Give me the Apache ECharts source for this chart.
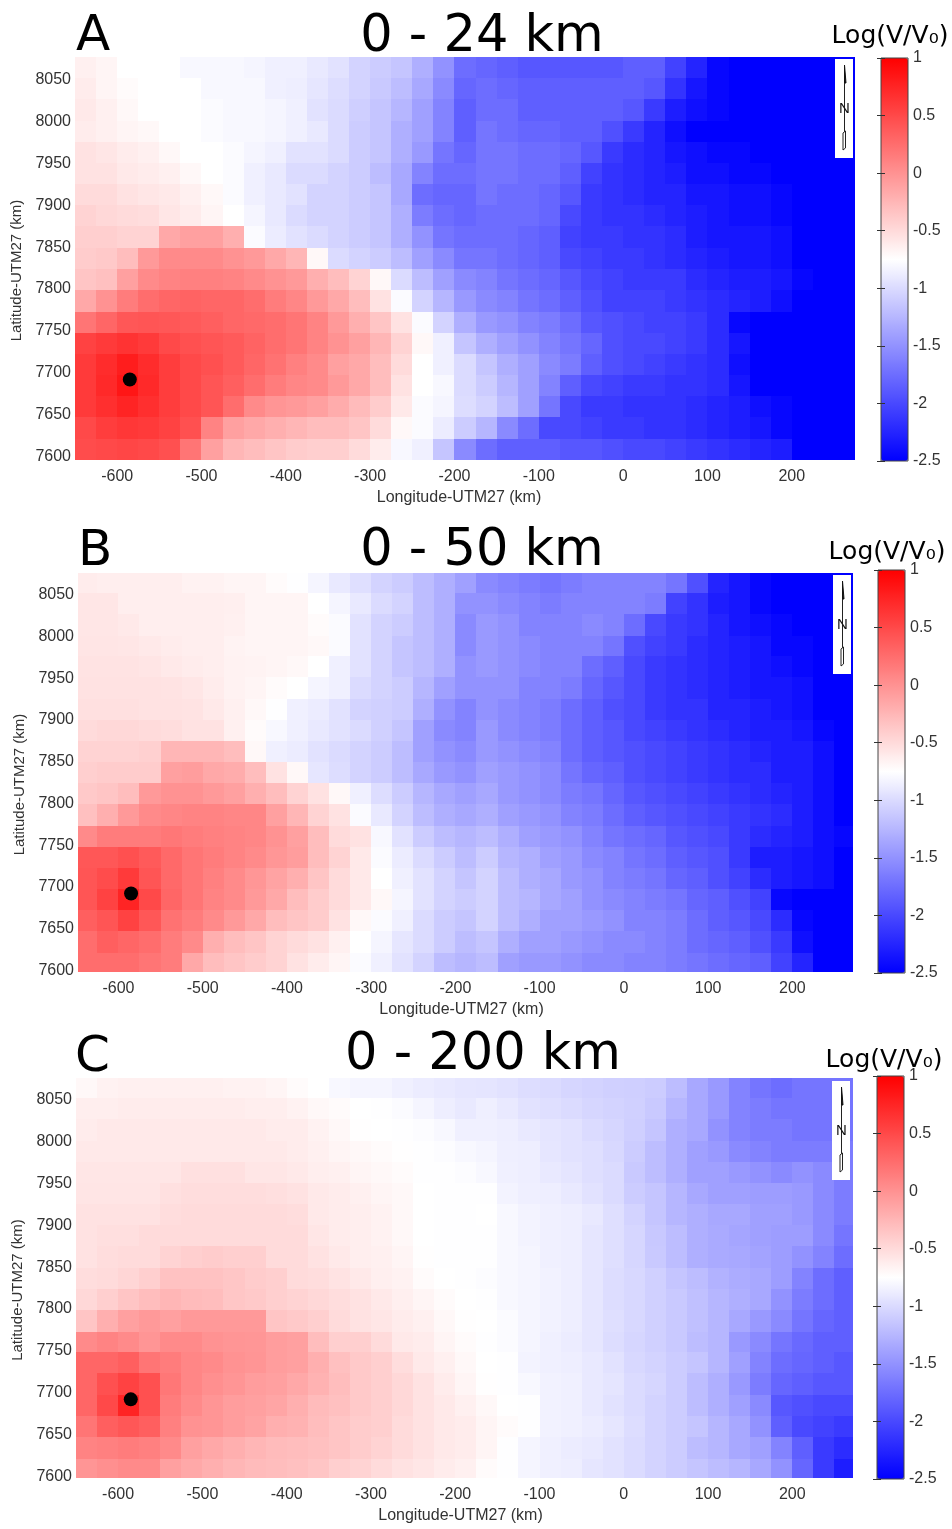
<!DOCTYPE html>
<html>
<head>
<meta charset="utf-8">
<style>html,body{margin:0;padding:0;background:#fff}#c{width:952px;height:1529px}</style>
<script src="https://cdn.jsdelivr.net/npm/echarts@6/dist/echarts.min.js"></script>
</head>
<body>
<div id="c"></div>
<script>
const lons = [-637.5,-612.5,-587.5,-562.5,-537.5,-512.5,-487.5,-462.5,-437.5,-412.5,-387.5,-362.5,-337.5,-312.5,-287.5,-262.5,-237.5,-212.5,-187.5,-162.5,-137.5,-112.5,-87.5,-62.5,-37.5,-12.5,12.5,37.5,62.5,87.5,112.5,137.5,162.5,187.5,212.5,237.5,262.5];
const lats = [8064,8039,8014,7988,7963,7938,7912,7887,7862,7836,7811,7786,7760,7735,7710,7684,7659,7634,7608];
const epicentre = [-585,7692];
const colorTicks = [-2.5,1];

const panelA = [
[-.65,-.68,-.75,-.75,-.75,-.8,-.8,-.8,-.82,-.85,-.85,-.9,-.95,-1.05,-1.1,-1.15,-1.3,-1.5,-1.75,-1.8,-1.85,-1.9,-1.9,-1.9,-1.9,-1.9,-1.85,-1.85,-2.05,-2.25,-2.45,-2.5,-2.5,-2.5,-2.5,-2.5,-2.5],
[-.62,-.68,-.72,-.75,-.75,-.75,-.8,-.8,-.8,-.85,-.87,-.92,-.98,-1.05,-1.12,-1.2,-1.35,-1.55,-1.8,-1.75,-1.8,-1.85,-1.85,-1.85,-1.85,-1.85,-1.85,-1.9,-2.15,-2.35,-2.45,-2.5,-2.5,-2.5,-2.5,-2.5,-2.5],
[-.6,-.65,-.7,-.75,-.75,-.75,-.78,-.8,-.8,-.82,-.85,-.95,-1,-1.08,-1.15,-1.25,-1.4,-1.6,-1.85,-1.75,-1.75,-1.85,-1.85,-1.85,-1.85,-1.85,-1.9,-2.1,-2.3,-2.4,-2.45,-2.5,-2.5,-2.5,-2.5,-2.5,-2.5],
[-.62,-.65,-.68,-.7,-.75,-.75,-.78,-.8,-.8,-.82,-.85,-.9,-1,-1.1,-1.15,-1.3,-1.4,-1.6,-1.85,-1.7,-1.75,-1.8,-1.8,-1.85,-1.85,-1.95,-2.1,-2.25,-2.4,-2.5,-2.5,-2.5,-2.5,-2.5,-2.5,-2.5,-2.5],
[-.55,-.58,-.62,-.65,-.7,-.75,-.75,-.78,-.82,-.85,-.95,-.95,-1,-1.1,-1.15,-1.3,-1.45,-1.7,-1.8,-1.7,-1.7,-1.75,-1.75,-1.8,-1.9,-2.1,-2.2,-2.25,-2.35,-2.4,-2.45,-2.45,-2.5,-2.5,-2.5,-2.5,-2.5],
[-.55,-.55,-.6,-.62,-.65,-.7,-.75,-.78,-.85,-.9,-1,-1,-1.05,-1.1,-1.2,-1.35,-1.6,-1.75,-1.75,-1.7,-1.7,-1.75,-1.75,-1.85,-2.05,-2.15,-2.2,-2.25,-2.3,-2.4,-2.4,-2.45,-2.45,-2.5,-2.5,-2.5,-2.5],
[-.5,-.5,-.55,-.58,-.6,-.65,-.7,-.78,-.85,-.9,-.95,-1.05,-1.05,-1.1,-1.15,-1.35,-1.75,-1.8,-1.8,-1.7,-1.75,-1.75,-1.8,-1.9,-2.1,-2.15,-2.2,-2.25,-2.25,-2.35,-2.35,-2.4,-2.4,-2.45,-2.5,-2.5,-2.5],
[-.45,-.48,-.5,-.52,-.58,-.62,-.68,-.75,-.82,-.9,-1,-1.05,-1.05,-1.1,-1.15,-1.3,-1.65,-1.75,-1.8,-1.75,-1.75,-1.75,-1.8,-2,-2.1,-2.15,-2.15,-2.2,-2.25,-2.3,-2.35,-2.4,-2.4,-2.45,-2.5,-2.5,-2.5],
[-.42,-.42,-.45,-.45,-.15,-.1,-.1,-.2,-.78,-.88,-.95,-1,-1.05,-1.1,-1.15,-1.3,-1.5,-1.7,-1.75,-1.75,-1.75,-1.8,-1.85,-2.05,-2.1,-2.1,-2.15,-2.15,-2.2,-2.3,-2.35,-2.35,-2.35,-2.4,-2.5,-2.5,-2.5],
[-.4,-.38,-.3,-.05,.05,.05,.05,0,-.05,-.15,-.25,-.7,-1,-1.05,-1.1,-1.2,-1.4,-1.55,-1.7,-1.7,-1.75,-1.8,-1.85,-2,-2.05,-2.1,-2.1,-2.15,-2.2,-2.25,-2.3,-2.35,-2.35,-2.4,-2.5,-2.5,-2.5],
[-.35,-.32,-.1,.05,.1,.12,.12,.1,.05,0,-.05,-.2,-.3,-.45,-.7,-1,-1.2,-1.4,-1.55,-1.6,-1.7,-1.75,-1.8,-1.9,-2,-2.05,-2.1,-2.1,-2.1,-2.2,-2.25,-2.3,-2.3,-2.35,-2.45,-2.5,-2.5],
[-.15,0,.15,.25,.3,.32,.3,.3,.25,.15,.08,-.05,-.15,-.3,-.55,-.78,-1.05,-1.25,-1.45,-1.55,-1.6,-1.7,-1.75,-1.85,-1.95,-2.05,-2.05,-2.05,-2.1,-2.15,-2.2,-2.25,-2.3,-2.4,-2.5,-2.5,-2.5],
[.2,.3,.4,.42,.4,.38,.35,.3,.28,.25,.2,.1,-.05,-.2,-.35,-.55,-.78,-1.05,-1.3,-1.45,-1.5,-1.6,-1.65,-1.75,-1.9,-1.95,-2,-2.05,-2.05,-2.1,-2.2,-2.45,-2.5,-2.5,-2.5,-2.5,-2.5],
[.55,.6,.65,.6,.5,.45,.42,.38,.32,.25,.2,.1,0,-.1,-.25,-.45,-.7,-.85,-1.15,-1.3,-1.4,-1.5,-1.6,-1.7,-1.8,-1.95,-2,-2,-2.05,-2.1,-2.2,-2.35,-2.5,-2.5,-2.5,-2.5,-2.5],
[.6,.7,.8,.7,.58,.5,.45,.38,.3,.22,.12,.05,-.1,-.15,-.3,-.5,-.75,-.85,-1,-1.15,-1.3,-1.4,-1.55,-1.65,-1.85,-1.95,-2,-2.05,-2.1,-2.15,-2.2,-2.4,-2.5,-2.5,-2.5,-2.5,-2.5],
[.6,.72,.85,.72,.58,.5,.42,.35,.25,.15,.08,.05,-.05,-.15,-.3,-.55,-.75,-.8,-1,-1.1,-1.25,-1.4,-1.6,-1.85,-2,-2.05,-2.1,-2.1,-2.15,-2.15,-2.2,-2.35,-2.5,-2.5,-2.5,-2.5,-2.5],
[.6,.68,.75,.68,.58,.5,.42,.25,.05,-.02,-.05,-.1,-.18,-.28,-.4,-.6,-.78,-.82,-.98,-1.05,-1.2,-1.4,-1.7,-2,-2.1,-2.1,-2.15,-2.15,-2.15,-2.2,-2.25,-2.3,-2.4,-2.45,-2.5,-2.5,-2.5],
[.5,.58,.62,.6,.55,.45,.1,-.1,-.15,-.2,-.25,-.3,-.3,-.35,-.5,-.7,-.78,-.88,-1.1,-1.25,-1.55,-1.75,-2,-2,-2.05,-2.1,-2.1,-2.15,-2.15,-2.2,-2.25,-2.3,-2.35,-2.45,-2.5,-2.5,-2.5],
[.48,.5,.52,.5,.45,.2,-.1,-.25,-.3,-.35,-.4,-.42,-.42,-.5,-.62,-.8,-.85,-1.15,-1.55,-1.75,-1.85,-1.85,-1.85,-1.9,-1.9,-1.95,-2,-2,-2.05,-2.1,-2.15,-2.2,-2.25,-2.3,-2.5,-2.5,-2.5]
];

const panelB = [
[-.62,-.63,-.63,-.63,-.63,-.66,-.66,-.68,-.68,-.72,-.76,-.82,-.9,-.97,-1.05,-1.1,-1.2,-1.3,-1.4,-1.55,-1.6,-1.65,-1.7,-1.65,-1.6,-1.6,-1.6,-1.6,-1.7,-1.95,-2.25,-2.35,-2.45,-2.5,-2.5,-2.5,-2.5],
[-.58,-.58,-.63,-.63,-.63,-.63,-.63,-.64,-.68,-.68,-.68,-.75,-.82,-.9,-1,-1.05,-1.2,-1.3,-1.5,-1.5,-1.55,-1.6,-1.65,-1.6,-1.6,-1.6,-1.6,-1.65,-2.05,-2.15,-2.3,-2.35,-2.45,-2.5,-2.5,-2.5,-2.5],
[-.58,-.58,-.6,-.63,-.63,-.63,-.63,-.65,-.68,-.68,-.68,-.72,-.78,-.95,-1.05,-1.1,-1.2,-1.3,-1.55,-1.45,-1.5,-1.6,-1.6,-1.6,-1.55,-1.6,-1.75,-2,-2.1,-2.15,-2.25,-2.35,-2.4,-2.45,-2.5,-2.5,-2.5],
[-.57,-.57,-.58,-.6,-.62,-.63,-.63,-.67,-.68,-.68,-.68,-.7,-.78,-.95,-1.05,-1.15,-1.2,-1.3,-1.55,-1.45,-1.5,-1.55,-1.6,-1.6,-1.6,-1.7,-1.95,-2.05,-2.1,-2.2,-2.25,-2.3,-2.35,-2.45,-2.45,-2.5,-2.5],
[-.56,-.56,-.56,-.57,-.6,-.62,-.63,-.66,-.67,-.68,-.7,-.75,-.85,-.95,-1.05,-1.15,-1.2,-1.3,-1.5,-1.45,-1.5,-1.55,-1.6,-1.6,-1.75,-1.85,-2,-2.1,-2.15,-2.2,-2.25,-2.3,-2.35,-2.4,-2.45,-2.5,-2.5],
[-.55,-.55,-.55,-.55,-.56,-.58,-.62,-.66,-.68,-.72,-.75,-.82,-.85,-1,-1.05,-1.1,-1.25,-1.4,-1.5,-1.5,-1.5,-1.6,-1.6,-1.65,-1.8,-1.9,-2,-2.1,-2.15,-2.2,-2.25,-2.3,-2.35,-2.35,-2.4,-2.5,-2.5],
[-.54,-.54,-.54,-.55,-.55,-.56,-.6,-.65,-.7,-.76,-.85,-.88,-.95,-1.05,-1.07,-1.1,-1.3,-1.5,-1.6,-1.5,-1.55,-1.6,-1.65,-1.75,-1.85,-1.95,-2,-2.1,-2.15,-2.15,-2.25,-2.25,-2.3,-2.35,-2.4,-2.5,-2.5],
[-.5,-.48,-.48,-.5,-.52,-.55,-.55,-.65,-.72,-.8,-.85,-.9,-.95,-1,-1.07,-1.15,-1.4,-1.55,-1.6,-1.45,-1.55,-1.6,-1.65,-1.75,-1.85,-1.9,-2,-2.05,-2.1,-2.15,-2.2,-2.25,-2.3,-2.3,-2.35,-2.45,-2.5],
[-.45,-.45,-.45,-.43,-.25,-.25,-.25,-.3,-.7,-.85,-.88,-.95,-1,-1.05,-1.1,-1.2,-1.4,-1.5,-1.55,-1.45,-1.5,-1.55,-1.6,-1.75,-1.85,-1.9,-1.95,-2,-2.05,-2.1,-2.15,-2.2,-2.25,-2.3,-2.3,-2.4,-2.5],
[-.42,-.4,-.4,-.4,-.1,-.08,-.15,-.18,-.3,-.55,-.7,-.92,-.98,-1.05,-1.1,-1.2,-1.35,-1.45,-1.5,-1.4,-1.45,-1.5,-1.55,-1.7,-1.8,-1.85,-1.95,-2,-2.05,-2.1,-2.15,-2.2,-2.2,-2.3,-2.3,-2.4,-2.5],
[-.38,-.35,-.3,-.05,0,0,-.05,-.1,-.2,-.3,-.45,-.55,-.7,-.85,-.98,-1.1,-1.25,-1.35,-1.4,-1.35,-1.45,-1.5,-1.55,-1.65,-1.7,-1.8,-1.9,-1.95,-2,-2.05,-2.1,-2.15,-2.2,-2.25,-2.3,-2.4,-2.5],
[-.32,-.2,-.05,.05,.08,.1,.1,.08,.08,-.1,-.25,-.45,-.55,-.78,-.9,-1.05,-1.2,-1.3,-1.35,-1.3,-1.4,-1.45,-1.5,-1.6,-1.65,-1.75,-1.85,-1.9,-1.95,-2,-2.05,-2.1,-2.15,-2.2,-2.3,-2.4,-2.5],
[.05,.15,.15,.15,.18,.15,.12,.1,.08,0,-.1,-.3,-.5,-.55,-.8,-.95,-1.1,-1.2,-1.25,-1.2,-1.3,-1.4,-1.45,-1.5,-1.6,-1.7,-1.75,-1.8,-1.9,-1.95,-2,-2.1,-2.2,-2.25,-2.3,-2.4,-2.45],
[.4,.4,.45,.38,.28,.2,.15,.1,.05,-.03,-.08,-.3,-.45,-.6,-.78,-.88,-1,-1.1,-1.2,-1.1,-1.25,-1.3,-1.4,-1.45,-1.55,-1.6,-1.7,-1.75,-1.85,-1.9,-1.95,-2.1,-2.3,-2.3,-2.35,-2.4,-2.5],
[.42,.48,.6,.42,.28,.2,.12,.05,-.03,-.12,-.2,-.35,-.5,-.6,-.75,-.85,-.95,-1.05,-1.15,-1.05,-1.2,-1.3,-1.35,-1.45,-1.5,-1.6,-1.65,-1.7,-1.8,-1.85,-1.95,-2.05,-2.2,-2.3,-2.35,-2.4,-2.5],
[.42,.55,.75,.5,.3,.2,.1,.05,-.05,-.15,-.3,-.4,-.5,-.6,-.7,-.82,-.95,-1.05,-1.1,-1.05,-1.2,-1.25,-1.35,-1.4,-1.5,-1.55,-1.6,-1.65,-1.7,-1.8,-1.85,-1.95,-2.05,-2.45,-2.5,-2.5,-2.5],
[.35,.42,.55,.4,.22,.15,.05,-.05,-.15,-.3,-.35,-.4,-.55,-.7,-.78,-.85,-1,-1.1,-1.15,-1.05,-1.2,-1.3,-1.4,-1.4,-1.45,-1.5,-1.6,-1.6,-1.65,-1.75,-1.85,-1.9,-2,-2.2,-2.45,-2.5,-2.5],
[.25,.35,.3,.25,.15,.05,-.2,-.3,-.35,-.45,-.5,-.55,-.65,-.75,-.82,-.92,-1,-1.1,-1.2,-1.15,-1.3,-1.4,-1.4,-1.45,-1.5,-1.55,-1.55,-1.6,-1.65,-1.75,-1.8,-1.85,-1.95,-2.1,-2.4,-2.5,-2.5],
[.25,.25,.25,.2,.15,-.15,-.3,-.35,-.4,-.45,-.55,-.62,-.68,-.78,-.85,-.95,-1.05,-1.2,-1.25,-1.2,-1.4,-1.45,-1.45,-1.5,-1.55,-1.55,-1.6,-1.6,-1.65,-1.7,-1.75,-1.8,-1.85,-2.05,-2.25,-2.5,-2.5]
];

const panelC = [
[-.7,-.66,-.65,-.65,-.65,-.65,-.65,-.66,-.66,-.68,-.72,-.75,-.8,-.82,-.82,-.85,-.88,-.9,-.92,-.93,-.95,-.98,-1,-1.03,-1.05,-1.07,-1.08,-1.1,-1.2,-1.35,-1.45,-1.6,-1.7,-1.75,-1.7,-1.7,-1.7],
[-.63,-.63,-.62,-.62,-.62,-.62,-.62,-.62,-.63,-.63,-.66,-.7,-.72,-.75,-.76,-.78,-.82,-.87,-.9,-.86,-.9,-.95,-.97,-1,-1.03,-1.05,-1.07,-1.12,-1.25,-1.35,-1.45,-1.6,-1.65,-1.7,-1.7,-1.7,-1.7],
[-.62,-.6,-.6,-.6,-.6,-.6,-.6,-.6,-.6,-.62,-.62,-.66,-.7,-.74,-.75,-.76,-.77,-.8,-.85,-.85,-.87,-.9,-.93,-.95,-1,-1.03,-1.08,-1.15,-1.3,-1.35,-1.5,-1.6,-1.65,-1.65,-1.7,-1.7,-1.7],
[-.6,-.6,-.6,-.6,-.6,-.6,-.6,-.6,-.6,-.6,-.62,-.65,-.68,-.7,-.72,-.74,-.76,-.77,-.8,-.82,-.86,-.87,-.92,-.95,-.97,-1.02,-1.1,-1.2,-1.3,-1.4,-1.45,-1.55,-1.6,-1.65,-1.65,-1.65,-1.65],
[-.58,-.58,-.58,-.58,-.58,-.54,-.54,-.54,-.58,-.58,-.6,-.63,-.65,-.68,-.7,-.72,-.76,-.76,-.77,-.8,-.85,-.87,-.9,-.93,-.97,-1,-1.12,-1.2,-1.3,-1.4,-1.4,-1.45,-1.5,-1.55,-1.5,-1.55,-1.65],
[-.57,-.57,-.57,-.57,-.54,-.52,-.52,-.52,-.52,-.53,-.55,-.6,-.62,-.65,-.68,-.7,-.75,-.76,-.76,-.76,-.83,-.86,-.87,-.9,-.95,-1,-1.1,-1.15,-1.25,-1.35,-1.4,-1.4,-1.42,-1.42,-1.45,-1.55,-1.65],
[-.55,-.55,-.55,-.55,-.52,-.5,-.5,-.5,-.5,-.5,-.52,-.6,-.62,-.63,-.66,-.7,-.75,-.76,-.76,-.75,-.8,-.83,-.85,-.87,-.9,-.97,-1.05,-1.15,-1.25,-1.3,-1.35,-1.35,-1.4,-1.4,-1.45,-1.55,-1.65],
[-.55,-.53,-.53,-.5,-.5,-.5,-.5,-.5,-.5,-.5,-.5,-.58,-.62,-.63,-.66,-.7,-.75,-.76,-.76,-.76,-.8,-.83,-.85,-.87,-.92,-.97,-1.03,-1.13,-1.2,-1.3,-1.33,-1.37,-1.4,-1.42,-1.42,-1.55,-1.7],
[-.55,-.52,-.5,-.5,-.45,-.42,-.4,-.42,-.42,-.5,-.5,-.55,-.6,-.63,-.65,-.68,-.74,-.76,-.76,-.76,-.8,-.82,-.85,-.87,-.92,-.97,-1.03,-1.12,-1.2,-1.3,-1.33,-1.35,-1.38,-1.42,-1.5,-1.6,-1.75],
[-.52,-.5,-.47,-.42,-.33,-.33,-.33,-.36,-.4,-.42,-.5,-.52,-.56,-.6,-.64,-.66,-.72,-.75,-.76,-.77,-.8,-.82,-.84,-.87,-.92,-.98,-1.02,-1.07,-1.15,-1.2,-1.28,-1.32,-1.35,-1.42,-1.6,-1.75,-1.85],
[-.48,-.42,-.35,-.3,-.25,-.28,-.3,-.36,-.38,-.42,-.45,-.48,-.52,-.55,-.6,-.64,-.68,-.72,-.75,-.76,-.8,-.82,-.84,-.87,-.92,-.98,-1.02,-1.07,-1.12,-1.18,-1.25,-1.3,-1.35,-1.5,-1.65,-1.75,-1.85],
[-.35,-.2,-.1,-.05,-.1,-.05,-.05,-.05,-.05,-.35,-.38,-.42,-.5,-.55,-.58,-.62,-.65,-.7,-.74,-.75,-.78,-.82,-.84,-.87,-.92,-.97,-1.02,-1.07,-1.12,-1.18,-1.25,-1.35,-1.45,-1.55,-1.7,-1.8,-1.85],
[.05,.1,.05,-.02,.05,.05,0,-.02,-.03,-.08,-.1,-.3,-.42,-.42,-.5,-.6,-.62,-.68,-.72,-.76,-.78,-.82,-.85,-.88,-.92,-.98,-1.03,-1.07,-1.12,-1.2,-1.25,-1.45,-1.55,-1.7,-1.78,-1.85,-1.85],
[.3,.3,.35,.2,.15,.08,.05,0,-.02,-.08,-.1,-.2,-.32,-.38,-.42,-.52,-.6,-.65,-.7,-.75,-.76,-.83,-.85,-.87,-.9,-.95,-1.02,-1.05,-1.1,-1.15,-1.25,-1.4,-1.6,-1.75,-1.8,-1.85,-1.9],
[.3,.45,.55,.45,.18,.08,.02,-.02,-.08,-.1,-.15,-.22,-.3,-.38,-.42,-.48,-.55,-.62,-.68,-.74,-.76,-.8,-.84,-.85,-.9,-.93,-1,-1.03,-1.1,-1.2,-1.3,-1.45,-1.65,-1.8,-1.85,-1.9,-1.9],
[.3,.5,.75,.45,.15,.05,-.02,-.08,-.1,-.13,-.2,-.28,-.32,-.38,-.42,-.48,-.55,-.6,-.65,-.7,-.75,-.76,-.84,-.85,-.9,-.95,-1,-1.05,-1.1,-1.2,-1.3,-1.4,-1.55,-1.9,-1.95,-2,-2],
[.2,.35,.4,.35,.12,0,-.02,-.08,-.12,-.2,-.22,-.3,-.35,-.4,-.42,-.5,-.55,-.6,-.62,-.68,-.72,-.76,-.84,-.85,-.88,-.92,-.98,-1.05,-1.1,-1.15,-1.25,-1.35,-1.5,-1.85,-2,-2.05,-2.1],
[.1,.12,.15,.12,.05,-.1,-.15,-.2,-.25,-.28,-.3,-.32,-.35,-.4,-.45,-.5,-.55,-.6,-.62,-.68,-.76,-.82,-.85,-.88,-.9,-.95,-1,-1.05,-1.1,-1.2,-1.25,-1.35,-1.4,-1.6,-1.85,-2.1,-2.2],
[-.02,.02,.05,.05,-.1,-.15,-.2,-.25,-.28,-.3,-.32,-.35,-.42,-.45,-.5,-.55,-.58,-.62,-.65,-.72,-.76,-.82,-.85,-.87,-.92,-.95,-1,-1.05,-1.1,-1.15,-1.2,-1.25,-1.35,-1.5,-1.8,-2.1,-2.3]
];

const panels = [
  {letter:'A', title:'0 - 24 km',  rows:panelA,
   plot:{left:75,top:57,width:780,height:403}, xr:[-650,275], yr:[7596,8077], bar:{left:881,top:58,width:27,height:403},
   letterPos:[76,12], titlePos:[482,12], logPos:[890,24], north:[835,59], xName:12, yName:24},
  {letter:'B', title:'0 - 50 km',  rows:panelB,
   plot:{left:78,top:573,width:775,height:399}, xr:[-648,272], yr:[7598,8076], bar:{left:878,top:570,width:27,height:403},
   letterPos:[78,527], titlePos:[482,526], logPos:[887,540], north:[833,575], xName:8, yName:24},
  {letter:'C', title:'0 - 200 km', rows:panelC,
   plot:{left:76,top:1078,width:777,height:400}, xr:[-650,272], yr:[7598,8076], bar:{left:877,top:1076,width:27,height:403},
   letterPos:[75,1033], titlePos:[483,1030], logPos:[884,1048], north:[832,1081], xName:8, yName:24}
];

const LON_STEP = 25, LAT_STEP = 26;
function renderCell(params, api){
  const c = api.coord([api.value(0), api.value(1)]);
  const s = api.size([LON_STEP, LAT_STEP]);
  const x0 = Math.round(c[0]-s[0]/2), x1 = Math.round(c[0]+s[0]/2);
  const y0 = Math.round(c[1]-s[1]/2), y1 = Math.round(c[1]+s[1]/2);
  const shape = echarts.graphic.clipRectByRect(
    {x:x0,y:y0,width:x1-x0,height:y1-y0},
    {x:params.coordSys.x,y:params.coordSys.y,width:params.coordSys.width,height:params.coordSys.height});
  return shape && {type:'rect', shape, style:{fill:api.visual('color')}};
}

const LABEL = '#333', SANS = 'Liberation Sans', DEJA = 'DejaVu Sans';
const grid=[], xAxis=[], yAxis=[], series=[], visualMap=[], title=[], graphic=[];

panels.forEach((p,i)=>{
  grid.push(Object.assign({containLabel:false}, p.plot));
  xAxis.push({type:'value', gridIndex:i, min:p.xr[0], max:p.xr[1], interval:2,
    axisLine:{show:false}, axisTick:{show:false}, splitLine:{show:false},
    axisLabel:{color:LABEL, fontFamily:SANS, fontSize:16, margin:9, formatter:v=>v%100===0?String(v):''},
    name:'Longitude-UTM27 (km)', nameLocation:'middle', nameGap:30,
    nameTextStyle:{color:LABEL, fontFamily:SANS, fontSize:16, padding:[0,p.xName,0,0]}});
  yAxis.push({type:'value', gridIndex:i, min:p.yr[0], max:p.yr[1], interval:2,
    axisLine:{show:false}, axisTick:{show:false}, splitLine:{show:false},
    axisLabel:{color:LABEL, fontFamily:SANS, fontSize:16, margin:4, formatter:v=>v%50===0?String(v):''},
    name:'Latitude-UTM27 (km)', nameLocation:'middle', nameGap:49,
    nameTextStyle:{color:LABEL, fontFamily:SANS, fontSize:15, padding:[0,p.yName,0,0]}});
});

panels.forEach((p,i)=>{
  grid.push(Object.assign({show:true, borderColor:'#444', borderWidth:1, backgroundColor:'transparent', z:10}, p.bar));
  xAxis.push({type:'value', gridIndex:3+i, show:false, min:0, max:1});
  yAxis.push({type:'value', gridIndex:3+i, position:'right', min:colorTicks[0], max:colorTicks[1], interval:.5, z:10,
    axisLine:{show:false}, splitLine:{show:false},
    axisTick:{inside:true, length:4, lineStyle:{color:'#333'}},
    axisLabel:{color:LABEL, fontFamily:SANS, fontSize:16, margin:5}});
});
panels.forEach((p,i)=>{
  yAxis.push({type:'value', gridIndex:3+i, position:'left', min:colorTicks[0], max:colorTicks[1], interval:.5, z:10,
    axisLine:{show:false}, splitLine:{show:false},
    axisTick:{inside:true, length:4, lineStyle:{color:'#333'}},
    axisLabel:{show:false}});
});

panels.forEach((p,i)=>{
  const cells=[];
  p.rows.forEach((row,j)=>row.forEach((v,k)=>cells.push([lons[k],lats[j],v])));
  const heatIndex = series.length;
  series.push({type:'custom', xAxisIndex:i, yAxisIndex:i, renderItem:renderCell, data:cells,
    encode:{x:0,y:1}, silent:true, animation:false});
  series.push({type:'scatter', xAxisIndex:i, yAxisIndex:i, data:[epicentre], symbolSize:14, z:5, silent:true,
    itemStyle:{color:'#000', opacity:1}});
  visualMap.push({type:'continuous', seriesIndex:heatIndex, dimension:2, min:colorTicks[0], max:colorTicks[1],
    left:p.bar.left, top:p.bar.top, itemWidth:p.bar.width, itemHeight:p.bar.height, padding:0,
    calculable:false, hoverLink:false, text:null, showLabel:false,
    inRange:{color:['#0000ff','#ffffff','#ff0000']}, textStyle:{color:'rgba(0,0,0,0)',fontSize:1}, z:4});

  title.push({text:p.letter, left:p.letterPos[0], top:p.letterPos[1], padding:0,
    textStyle:{fontFamily:DEJA, fontSize:50, fontWeight:'normal', color:'#000'}});
  title.push({text:p.title, left:p.titlePos[0], top:p.titlePos[1], textAlign:'center', padding:0,
    textStyle:{fontFamily:DEJA, fontSize:51, fontWeight:'normal', color:'#000'}});
  title.push({text:'Log(V/V₀)', left:p.logPos[0], top:p.logPos[1], textAlign:'center', padding:0,
    textStyle:{fontFamily:DEJA, fontSize:25, fontWeight:'normal', color:'#000'}});

  const [nx,ny]=p.north, Z=20;
  graphic.push({type:'rect', x:nx, y:ny, z:Z, silent:true, shape:{x:0,y:0,width:18,height:99}, style:{fill:'#fff'}});
  graphic.push({type:'polygon', x:nx, y:ny, z:Z+1, silent:true, shape:{points:[[9.5,6],[11,24],[9.5,24]]}, style:{stroke:'#111',lineWidth:1,fill:'#111'}});
  graphic.push({type:'line', x:nx, y:ny, z:Z+1, silent:true, shape:{x1:9.5,y1:24,x2:9.5,y2:73}, style:{stroke:'#222',lineWidth:1}});
  graphic.push({type:'polygon', x:nx, y:ny, z:Z+1, silent:true, shape:{points:[[8,74],[8,91],[10.5,89],[10.5,72]]}, style:{stroke:'#222',lineWidth:1,fill:'#fff'}});
  graphic.push({type:'text', x:nx+9.5, y:ny+50, z:Z+2, silent:true, style:{text:'N',align:'center',verticalAlign:'middle',font:'15px "Liberation Sans"',fill:'#111'}});
});

const chart = echarts.init(document.getElementById('c'), null, {renderer:'canvas', width:952, height:1529});
chart.setOption({animation:false, backgroundColor:'#fff', grid, xAxis, yAxis, series, visualMap, title, graphic});
</script>
</body>
</html>
